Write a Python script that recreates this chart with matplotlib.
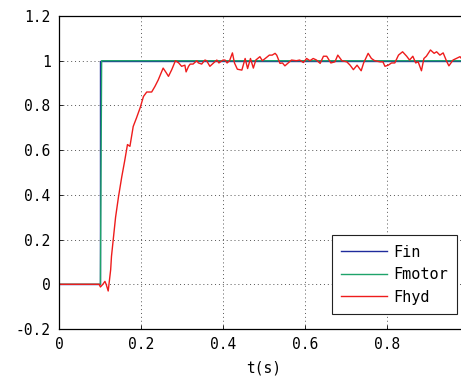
import matplotlib.pyplot as plt

plt.rcParams['font.family'] = ['DejaVu Sans Mono']
plt.rcParams['font.size'] = 10

# reference input and motor force (unit step at t = 0.1 s)
t_in = [0.0, 0.1, 0.1, 1.0]
f_in = [0.0, 0.0, 1.0, 1.0]
t_motor = [0.0, 0.101, 0.104, 1.0]
f_motor = [0.0, 0.0, 1.0, 1.0]

# hydraulic force response (measured, noisy)
t_hyd = [0.0, 0.098, 0.101, 0.107, 0.112, 0.115, 0.120, 0.126, 0.128, 0.138, 0.145,
         0.153, 0.160, 0.167, 0.173, 0.181, 0.189, 0.198, 0.206, 0.214, 0.226,
         0.234, 0.242, 0.254, 0.262, 0.267, 0.275, 0.284, 0.292, 0.299, 0.307,
         0.310, 0.316, 0.320, 0.327, 0.336, 0.340, 0.348, 0.356, 0.360, 0.368,
         0.377, 0.385, 0.390, 0.400, 0.405, 0.410, 0.416, 0.423, 0.428, 0.435,
         0.446, 0.454, 0.460, 0.467, 0.474, 0.480, 0.490, 0.496, 0.503, 0.513,
         0.520, 0.527, 0.531, 0.539, 0.545, 0.551, 0.559, 0.567, 0.579, 0.587,
         0.596, 0.604, 0.612, 0.620, 0.628, 0.637, 0.645, 0.653, 0.663, 0.673,
         0.680, 0.690, 0.702, 0.710, 0.718, 0.727, 0.737, 0.743, 0.754, 0.762,
         0.770, 0.783, 0.790, 0.795, 0.803, 0.811, 0.819, 0.828, 0.838, 0.848,
         0.855, 0.863, 0.870, 0.876, 0.884, 0.890, 0.896, 0.906, 0.915, 0.921,
         0.929, 0.937, 0.946, 0.951, 0.961, 0.969, 0.978, 0.986, 0.993, 1.0]
f_hyd = [0.0, 0.0, -0.012, 0.0, 0.013, 0.0, -0.03, 0.065, 0.125, 0.30, 0.39,
         0.48, 0.55, 0.625, 0.617, 0.706, 0.744, 0.79, 0.84, 0.86, 0.86,
         0.885, 0.914, 0.967, 0.945, 0.93, 0.96, 1.0, 0.99, 0.975, 0.98,
         0.95, 0.975, 0.985, 0.985, 1.0, 0.99, 0.985, 1.003, 1.0, 0.975,
         0.99, 1.003, 0.99, 1.003, 1.003, 0.99, 1.0, 1.035, 0.99, 0.962,
         0.958, 1.01, 0.965, 1.01, 0.967, 1.003, 1.018, 1.0, 1.01, 1.025,
         1.025, 1.033, 1.025, 0.988, 0.99, 0.977, 0.99, 1.003, 1.0, 1.003,
         0.992, 1.01, 1.0, 1.01, 1.003, 0.988, 1.02, 1.02, 0.99, 0.995,
         1.025, 1.0, 0.995, 0.98, 0.96, 0.98, 0.955, 0.99, 1.033, 1.01,
         1.0, 0.995, 0.995, 0.975, 0.98, 0.99, 0.99, 1.025, 1.04, 1.02,
         1.003, 1.02, 0.99, 0.995, 0.955, 1.01, 1.02, 1.048, 1.033, 1.04,
         1.025, 1.035, 0.995, 0.977, 1.003, 1.01, 1.018, 1.0, 1.01, 1.0]

x_ticks = [0, 0.2, 0.4, 0.6, 0.8]
x_labels = ['0', '0.2', '0.4', '0.6', '0.8']
y_ticks = [-0.2, 0, 0.2, 0.4, 0.6, 0.8, 1.0, 1.2]
y_labels = ['-0.2', '0', '0.2', '0.4', '0.6', '0.8', '1', '1.2']

fig = plt.figure(figsize=(4.61, 3.81), dpi=100)
# axes runs a little past the right edge of the figure
ax = fig.add_axes([59 / 461, 52 / 381, 410 / 461, 313 / 381])

ax.plot(t_in, f_in, color='#1f2b9c', lw=1.0, label='Fin')
ax.plot(t_motor, f_motor, color='#1ea36a', lw=1.0, label='Fmotor')
ax.plot(t_hyd, f_hyd, color='#ee1c1c', lw=1.0, label='Fhyd')

ax.set_xlim(0, 1)
ax.set_ylim(-0.2, 1.2)
ax.set_xticks(x_ticks)
ax.set_xticklabels(x_labels)
ax.set_yticks(y_ticks)
ax.set_yticklabels(y_labels)
ax.tick_params(direction='in', length=3, width=0.6, labelsize=10.5, pad=6)
ax.grid(True, linestyle=(0, (1, 3)), color='#555555', lw=0.7)
ax.axvline(1.0, linestyle=(0, (1, 3)), color='#555555', lw=0.7)
for s in ax.spines.values():
    s.set_linewidth(0.9)

ax.set_xlabel('t(s)', fontsize=10.5, labelpad=6)

leg = ax.legend(loc='lower right', bbox_to_anchor=((457 - 59) / 410, 0.048),
                borderaxespad=0, fancybox=False, framealpha=1, edgecolor='#222222',
                fontsize=11, handlelength=3.0, borderpad=0.6, labelspacing=0.5,
                handletextpad=0.4)
leg.get_frame().set_linewidth(0.8)

fig.savefig('out.png', dpi=100)
